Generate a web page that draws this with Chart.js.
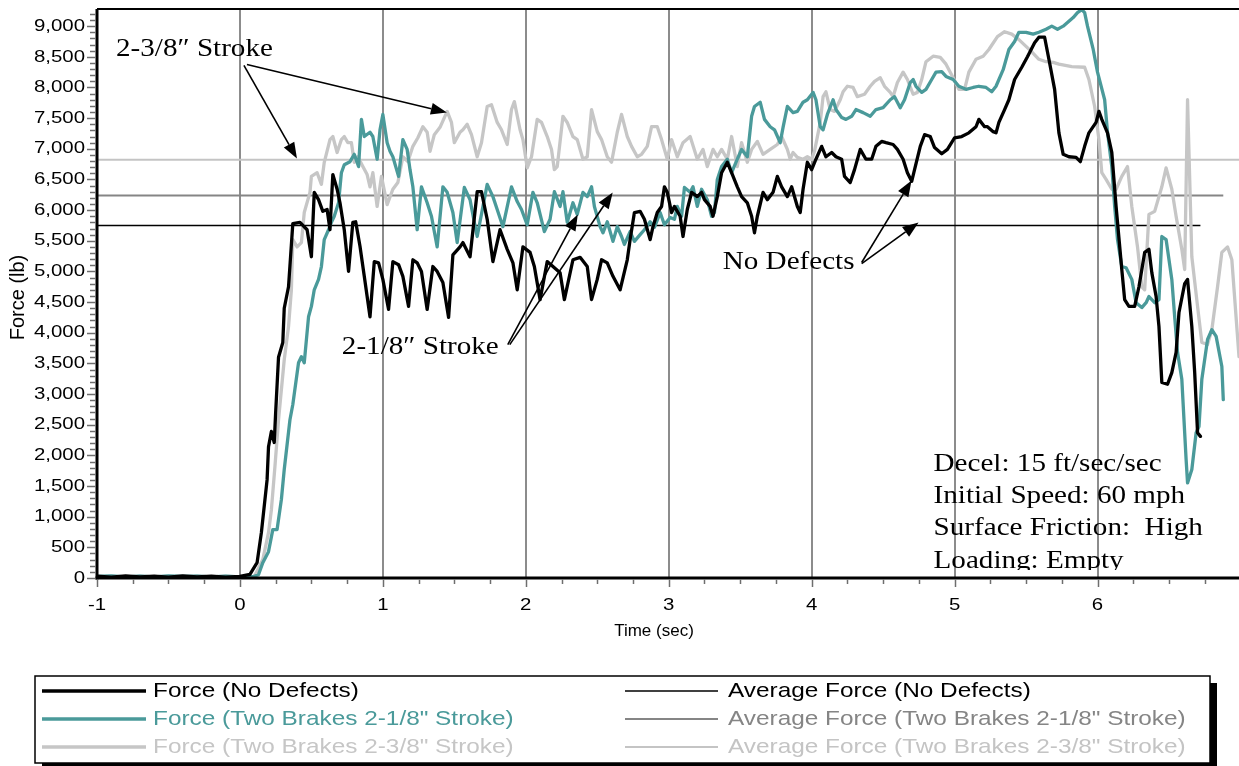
<!DOCTYPE html>
<html>
<head>
<meta charset="utf-8">
<title>Brake Force vs Time</title>
<script src="https://cdn.jsdelivr.net/npm/chart.js@4.4.1/dist/chart.umd.min.js"></script>
<style>
  html, body { margin: 0; padding: 0; background: #ffffff; }
  #wrap { width: 1239px; height: 766px; position: relative; }
  canvas { display: block; }
</style>
</head>
<body>
<div id="wrap"><canvas id="chart" width="1239" height="766"></canvas></div>
<script>
// ---- Measured brake force traces (time in s, force in lb) ----
const timeNoDefects = [-1.00,-0.90,-0.80,-0.70,-0.60,-0.50,-0.40,-0.30,-0.20,-0.10,0.00,0.07,
  0.12,0.15,0.19,0.20,0.22,0.24,0.25,0.27,0.30,0.31,0.34,0.37,0.42,0.47,0.50,0.52,0.55,0.58,0.61,0.63,0.65,0.68,0.70,0.73,0.76,0.79,0.81,0.84,0.87,0.91,0.94,0.97,
  1.00,1.04,1.07,1.11,1.14,1.18,1.21,1.24,1.27,1.31,1.35,1.38,1.42,1.46,1.49,1.54,1.56,1.61,1.66,1.69,1.73,1.77,1.82,1.87,1.91,1.94,1.98,
  2.03,2.06,2.10,2.15,2.19,2.24,2.27,2.33,2.38,2.43,2.46,2.50,2.53,2.57,2.61,2.66,2.71,2.73,2.76,2.80,2.83,2.87,2.89,2.92,2.95,2.97,2.99,
  3.02,3.04,3.08,3.10,3.13,3.16,3.20,3.23,3.25,3.29,3.31,3.34,3.37,3.41,3.44,3.48,3.51,3.55,3.58,3.60,3.62,3.66,3.69,3.73,3.76,3.79,3.83,3.86,3.90,3.92,3.94,3.97,
  4.00,4.03,4.07,4.10,4.14,4.17,4.21,4.23,4.27,4.30,4.34,4.38,4.42,4.45,4.49,4.52,4.57,4.60,4.64,4.67,4.70,4.72,4.76,4.79,4.83,4.86,4.91,4.95,
  5.00,5.05,5.10,5.15,5.17,5.21,5.23,5.27,5.29,5.31,5.35,5.38,5.42,5.47,5.51,5.56,5.59,5.63,5.66,5.70,5.73,5.76,5.80,5.85,5.88,5.91,5.94,5.99,
  6.01,6.03,6.07,6.10,6.13,6.17,6.19,6.22,6.26,6.29,6.33,6.36,6.38,6.41,6.43,6.45,6.49,6.52,6.55,6.57,6.61,6.63,6.66,6.68,6.70,6.72];
const forceNoDefects = [30,15,35,20,30,15,35,20,30,15,25,60,
  250,740,1600,2140,2390,2210,2700,3600,3840,4400,4750,5780,5800,5680,5240,6290,6170,5980,6010,5680,6580,6340,6120,5680,5000,5800,5810,5410,4920,4260,5160,5140,
  4870,4380,5160,5110,4920,4430,5190,5140,5000,4380,5080,5000,4820,4250,5270,5400,5470,5240,6300,6300,5850,5160,5680,5360,5140,4700,5400,
  5310,5080,4540,5160,5080,4980,4540,5190,5230,5080,4540,4870,5190,5140,4920,4700,5190,5520,5960,5980,5850,5520,5730,5960,6060,6380,6290,
  5960,6060,5900,5570,6010,6290,6220,6290,6170,6060,5900,6220,6610,6780,6610,6380,6220,6120,5900,5630,5900,6290,6170,6290,6550,6380,6220,6380,6060,5960,6340,6780,
  6660,6830,7040,6870,6940,6870,6830,6550,6450,6660,6990,6830,6830,7040,7120,7100,7070,6990,6830,6610,6470,6660,7040,7230,7200,7020,6920,6990,
  7180,7200,7260,7360,7480,7360,7360,7280,7260,7430,7640,7800,8130,8330,8500,8730,8820,8820,8460,7970,7260,6910,6870,6860,6790,7040,7260,7430,
  7610,7480,7260,6940,6060,5030,4540,4430,4430,4750,5310,5360,4980,4590,4100,3190,3160,3350,3680,4330,4800,4870,4100,3350,2370,2310];

const timeStroke218 = [-1.00,-0.90,-0.80,-0.70,-0.60,-0.50,-0.40,-0.30,-0.20,-0.10,0.00,0.09,
  0.13,0.16,0.20,0.23,0.26,0.29,0.31,0.35,0.37,0.41,0.43,0.45,0.48,0.50,0.52,0.55,0.57,0.59,0.62,0.64,0.66,0.69,0.71,0.73,0.77,0.80,0.83,0.85,0.87,0.91,0.93,0.96,0.98,
  1.00,1.03,1.05,1.07,1.11,1.14,1.17,1.19,1.21,1.24,1.27,1.31,1.34,1.38,1.42,1.45,1.49,1.52,1.57,1.61,1.64,1.66,1.73,1.77,1.80,1.84,1.90,1.94,1.97,
  2.01,2.05,2.08,2.13,2.17,2.20,2.24,2.26,2.29,2.33,2.36,2.40,2.43,2.46,2.48,2.52,2.54,2.57,2.61,2.64,2.67,2.69,2.73,2.76,2.80,2.83,2.87,2.90,2.94,2.97,
  3.01,3.04,3.06,3.09,3.11,3.15,3.17,3.20,3.23,3.27,3.30,3.32,3.34,3.37,3.41,3.44,3.48,3.51,3.55,3.58,3.60,3.64,3.67,3.71,3.74,3.78,3.80,3.83,3.87,3.90,3.94,3.97,
  4.01,4.03,4.06,4.08,4.11,4.15,4.17,4.21,4.24,4.28,4.31,4.36,4.41,4.45,4.50,4.55,4.58,4.62,4.65,4.69,4.71,4.73,4.77,4.80,4.84,4.87,4.91,4.94,4.99,
  5.03,5.08,5.13,5.17,5.22,5.26,5.29,5.34,5.38,5.42,5.45,5.50,5.55,5.59,5.64,5.68,5.72,5.76,5.79,5.83,5.86,5.89,5.91,5.93,5.97,
  6.00,6.05,6.07,6.10,6.12,6.14,6.17,6.20,6.24,6.27,6.31,6.34,6.36,6.40,6.43,6.45,6.48,6.52,6.54,6.56,6.59,6.62,6.63,6.66,6.69,6.71,6.73,6.77,6.80,6.83,6.87,6.88];
const forceStroke218 = [25,35,20,30,20,35,25,30,20,30,20,21,
  54,250,430,790,790,1280,1770,2580,2830,3510,3610,3510,4260,4430,4700,4870,5080,5520,5680,5800,5900,6120,6610,6740,6790,6910,6710,7480,7200,7270,7200,6830,7310,
  7560,7100,6960,6870,6550,7150,6990,6660,6380,5680,6380,6120,5900,5400,6380,6290,5960,5470,6370,6170,5800,5570,6420,6220,6010,5730,6380,6140,6010,
  5760,6290,6120,5650,5850,6300,6060,6300,5800,6120,5930,6290,6220,6380,6060,5730,5630,5810,5490,5730,5570,5440,5650,5490,5600,5680,5810,5720,5960,5760,
  5880,5850,6060,5900,6370,6290,6380,6060,6340,6170,5900,5960,6500,6710,6830,6610,6830,6990,6870,7530,7690,7760,7480,7360,7310,7100,7350,7690,7590,7610,7760,7800,
  7920,7800,7360,7310,7560,7800,7640,7510,7480,7530,7640,7590,7530,7640,7670,7800,7850,7670,7800,8080,8130,8020,7920,7970,8130,8250,8260,8180,8130,
  8020,7970,8000,8020,8000,7930,8020,8290,8620,8750,8900,8900,8870,8900,8950,9000,8950,9000,9060,9140,9220,9270,9220,9000,8620,
  8250,7800,7270,6710,6060,5520,5080,5060,4870,4490,4410,4490,4590,4490,4540,5570,5520,4870,4260,3680,3240,1930,1550,1770,2370,2470,3240,3890,4050,3940,3450,2910];

const timeStroke238 = [-1.00,-0.90,-0.80,-0.70,-0.60,-0.50,-0.40,-0.30,-0.20,-0.10,0.00,0.10,
  0.16,0.20,0.22,0.245,0.27,0.29,0.31,0.34,0.36,0.37,0.40,0.43,0.45,0.49,0.50,0.54,0.57,0.59,0.63,0.65,0.68,0.71,0.73,0.755,0.78,0.80,0.825,0.86,0.89,0.91,0.93,0.96,0.99,
  1.03,1.07,1.105,1.14,1.175,1.21,1.245,1.28,1.31,1.33,1.36,1.40,1.45,1.48,1.50,1.54,1.56,1.59,1.62,1.66,1.69,1.73,1.76,1.80,1.83,1.87,1.90,1.92,1.96,1.98,
  2.01,2.04,2.08,2.11,2.15,2.18,2.20,2.22,2.26,2.29,2.33,2.36,2.40,2.43,2.46,2.50,2.53,2.57,2.60,2.64,2.67,2.71,2.74,2.78,2.81,2.85,2.88,2.92,2.95,2.99,
  3.02,3.06,3.10,3.15,3.20,3.24,3.27,3.31,3.34,3.37,3.41,3.44,3.48,3.51,3.55,3.58,3.62,3.66,3.71,3.76,3.79,3.83,3.85,3.87,3.90,3.94,3.97,
  4.00,4.02,4.06,4.08,4.10,4.13,4.16,4.20,4.22,4.25,4.29,4.32,4.37,4.41,4.44,4.48,4.51,4.55,4.57,4.60,4.64,4.67,4.71,4.74,4.77,4.80,4.85,4.90,4.94,4.99,
  5.03,5.07,5.10,5.15,5.20,5.24,5.30,5.35,5.40,5.45,5.50,5.545,5.59,5.64,5.69,5.73,5.82,5.91,5.94,5.98,
  6.01,6.03,6.06,6.10,6.13,6.17,6.21,6.24,6.28,6.31,6.33,6.36,6.40,6.45,6.48,6.52,6.55,6.59,6.61,6.63,6.66,6.70,6.73,6.77,6.80,6.84,6.87,6.91,6.94,6.99];
const forceStroke238 = [20,30,15,35,20,30,20,35,20,30,20,21,
  300,740,1110,1820,2580,3070,3560,4100,4700,5520,5400,5470,5960,6290,6550,6610,6420,6780,7150,7200,6940,7150,7200,7100,7100,6780,6870,6710,6580,6380,6610,6060,6550,
  6090,6340,6450,6870,6790,7040,7180,7360,7270,6960,7230,7350,7610,7430,7100,7270,7310,7400,7230,6870,7100,7690,7720,7430,7310,7070,7640,7770,7310,7150,
  6690,6870,7480,7430,7200,6990,6660,6710,7530,7430,7200,7150,6830,6870,7640,7280,7150,6870,6780,7270,7560,7200,7040,6870,6910,7040,7360,7360,7150,6830,
  7150,6870,7100,7200,6830,6990,6710,6990,6870,6990,6830,7200,6710,7100,6780,6990,7120,6910,6990,7070,7200,6990,6830,6940,6860,6830,6870,
  6830,6960,7430,7850,7930,7640,7610,7800,7930,8020,8000,7850,7890,8020,8100,8160,8020,7920,7850,8080,8250,8130,7890,7920,8130,8420,8510,8490,8380,8160,
  7970,7970,8250,8460,8510,8620,8830,8910,8870,8780,8670,8570,8460,8420,8410,8380,8340,8330,8130,7690,
  7150,6610,6500,6340,6340,6550,6710,6060,5400,4750,4700,5930,5980,6380,6690,6340,5900,5360,5030,7800,5240,4430,3840,3810,4050,4750,5310,5400,5190,3610];

// Mean force of each run over its full record (lb)
const averageForce = [5750, 6240, 6820];

// Axis ticks
const xTickValues = [-1, 0, 1, 2, 3, 4, 5, 6];
const yTickValues = [0, 500, 1000, 1500, 2000, 2500, 3000, 3500, 4000, 4500, 5000, 5500, 6000, 6500, 7000, 7500, 8000, 8500, 9000];

const seriesLabels = [
  'Force (No Defects)',
  'Force (Two Brakes 2-1/8" Stroke)',
  'Force (Two Brakes 2-3/8" Stroke)',
  'Average Force (No Defects)',
  'Average Force (Two Brakes 2-1/8" Stroke)',
  'Average Force (Two Brakes 2-3/8" Stroke)'
];

const testConditions = ['Decel: 15 ft/sec/sec', 'Initial Speed: 60 mph', 'Surface Friction:  High', 'Loading: Empty'];

// ---- Styling ----
const BLACK = '#000000';
const TEAL = '#4a9a9a';
const LIGHT = '#c6c6c6';
const MID = '#858585';
const SANS = '"Liberation Sans", Arial, sans-serif';
const SERIF = '"Liberation Serif", "Times New Roman", serif';

function toPoints(ts, fs) { return ts.map((t, i) => ({ x: t, y: fs[i] })); }
function spanLine(ts, level) { return [{ x: ts[0], y: level }, { x: ts[ts.length - 1], y: level }]; }

const traces = [
  { t: timeNoDefects, f: forceNoDefects, color: BLACK, avgColor: BLACK, avgWidth: 1.6 },
  { t: timeStroke218, f: forceStroke218, color: TEAL, avgColor: MID, avgWidth: 2 },
  { t: timeStroke238, f: forceStroke238, color: LIGHT, avgColor: '#c4c4c4', avgWidth: 2 }
];

const datasets = [];
traces.forEach((tr, i) => {
  datasets.push({
    label: seriesLabels[i], data: toPoints(tr.t, tr.f),
    borderColor: tr.color, borderWidth: 3.3, order: i, tension: 0,
    borderJoinStyle: 'round', borderCapStyle: 'round', pointRadius: 0, fill: false
  });
});
traces.forEach((tr, i) => {
  datasets.push({
    label: seriesLabels[3 + i], data: spanLine(tr.t, averageForce[i]),
    borderColor: tr.avgColor, borderWidth: tr.avgWidth, order: 10 + i,
    pointRadius: 0, fill: false
  });
});

// Call-out notes, anchored in data units (time, force)
const callouts = [
  { text: '2-3/8\u2033 Stroke', at: [-0.867, 8506],
    arrows: [[0.028, 8359, 0.399, 6841], [0.049, 8375, 1.448, 7592]] },
  { text: '2-1/8\u2033 Stroke', at: [0.713, 3660],
    arrows: [[1.874, 3807, 2.364, 5928], [1.888, 3807, 2.608, 6287]] },
  { text: 'No Defects', at: [3.378, 5047],
    arrows: [[4.35, 5145, 4.699, 6483], [4.35, 5128, 4.748, 5797]] }
];
const conditionsAnchor = [4.853, 1750];

function stretchedText(ctx, text, x, y, sx, align) {
  ctx.save();
  ctx.translate(x, y);
  ctx.scale(sx, 1);
  ctx.textAlign = align || 'left';
  ctx.fillText(text, 0, 0);
  ctx.restore();
}

function arrow(ctx, x1, y1, x2, y2) {
  const ang = Math.atan2(y2 - y1, x2 - x1);
  const len = 16, half = 6;
  const bx = x2 - len * Math.cos(ang), by = y2 - len * Math.sin(ang);
  ctx.beginPath();
  ctx.moveTo(x1, y1);
  ctx.lineTo(bx, by);
  ctx.stroke();
  ctx.beginPath();
  ctx.moveTo(x2, y2);
  ctx.lineTo(bx + half * Math.sin(ang), by - half * Math.cos(ang));
  ctx.lineTo(bx - half * Math.sin(ang), by + half * Math.cos(ang));
  ctx.closePath();
  ctx.fill();
}

const decorations = {
  id: 'decorations',
  afterDatasetsDraw(chart) {
    const { ctx, chartArea: a, scales: { x, y } } = chart;
    ctx.save();

    // frame: top rule and heavy axes
    ctx.strokeStyle = BLACK;
    ctx.lineWidth = 2;
    ctx.beginPath(); ctx.moveTo(a.left, a.top); ctx.lineTo(a.right, a.top); ctx.stroke();
    ctx.lineWidth = 3;
    ctx.beginPath(); ctx.moveTo(a.left, a.top); ctx.lineTo(a.left, a.bottom + 1.5); ctx.stroke();
    ctx.beginPath(); ctx.moveTo(a.left - 1.5, a.bottom); ctx.lineTo(a.right, a.bottom); ctx.stroke();

    // tick marks (minor every 100 lb / 0.25 s)
    ctx.strokeStyle = '#6e6e6e';
    ctx.lineWidth = 1.5;
    for (let k = 0; k * 100 <= y.max - 50; k++) {
      const py = Math.round(y.getPixelForValue(k * 100)) + 0.5;
      const len = k % 5 === 0 ? 10 : 7;
      ctx.beginPath(); ctx.moveTo(a.left - len, py); ctx.lineTo(a.left - 1.5, py); ctx.stroke();
    }
    for (let k = 0; -1 + k * 0.25 < x.max; k++) {
      const px = Math.round(x.getPixelForValue(-1 + k * 0.25)) + 0.5;
      const len = k % 4 === 0 ? 9 : 6;
      ctx.beginPath(); ctx.moveTo(px, a.bottom + 1.5); ctx.lineTo(px, a.bottom + len); ctx.stroke();
    }

    // tick labels
    ctx.fillStyle = BLACK;
    ctx.font = '17px ' + SANS;
    ctx.textBaseline = 'middle';
    yTickValues.forEach(v => {
      stretchedText(ctx, v.toLocaleString('en-US'), a.left - 12, y.getPixelForValue(v), 1.2, 'right');
    });
    xTickValues.forEach(v => {
      stretchedText(ctx, String(v), x.getPixelForValue(v), a.bottom + 27, 1.2, 'center');
    });

    // axis titles
    ctx.font = '17px ' + SANS;
    stretchedText(ctx, 'Time (sec)', (a.left + a.right) / 2 - 14, a.bottom + 53, 1.0, 'center');
    ctx.save();
    ctx.translate(18, (a.top + a.bottom) / 2 + 4);
    ctx.rotate(-Math.PI / 2);
    ctx.font = '20px ' + SANS;
    ctx.textAlign = 'center';
    ctx.fillText('Force (lb)', 0, 0);
    ctx.restore();

    // call-outs with leader arrows
    ctx.font = '26px ' + SERIF;
    ctx.textBaseline = 'alphabetic';
    ctx.strokeStyle = BLACK;
    ctx.fillStyle = BLACK;
    ctx.lineWidth = 1.6;
    callouts.forEach(c => {
      stretchedText(ctx, c.text, x.getPixelForValue(c.at[0]), y.getPixelForValue(c.at[1]), 1.12, 'left');
      c.arrows.forEach(r => arrow(ctx,
        x.getPixelForValue(r[0]), y.getPixelForValue(r[1]),
        x.getPixelForValue(r[2]), y.getPixelForValue(r[3])));
    });

    // test conditions block, clipped just above the time axis
    ctx.save();
    ctx.beginPath();
    ctx.rect(a.left, a.top, a.right - a.left, a.bottom - a.top - 8);
    ctx.clip();
    const cx = x.getPixelForValue(conditionsAnchor[0]);
    const cy = y.getPixelForValue(conditionsAnchor[1]);
    testConditions.forEach((line, i) => {
      stretchedText(ctx, line, cx, cy + i * 32.4, 1.12, 'left');
    });
    ctx.restore();

    ctx.restore();
  },
  afterDraw(chart) {
    // two-column legend box with drop shadow
    const { ctx } = chart;
    const box = { l: 35, t: 676, r: 1210, b: 763 };
    ctx.save();
    ctx.fillStyle = BLACK;
    ctx.fillRect(box.l + 7, box.t + 7, box.r - box.l, box.b - box.t);
    ctx.fillStyle = '#ffffff';
    ctx.fillRect(box.l, box.t, box.r - box.l, box.b - box.t);
    ctx.strokeStyle = BLACK;
    ctx.lineWidth = 1.5;
    ctx.strokeRect(box.l, box.t, box.r - box.l, box.b - box.t);

    const cols = [{ x0: 42, x1: 146, tx: 153 }, { x0: 625, x1: 718, tx: 728 }];
    ctx.font = '21px ' + SANS;
    ctx.textBaseline = 'middle';
    chart.data.datasets.forEach((ds, i) => {
      const col = cols[Math.floor(i / 3)];
      const yy = box.t + 15 + (i % 3) * 28;
      ctx.strokeStyle = ds.borderColor;
      ctx.lineWidth = ds.borderWidth;
      ctx.beginPath(); ctx.moveTo(col.x0, yy); ctx.lineTo(col.x1, yy); ctx.stroke();
      ctx.fillStyle = ds.borderColor;
      stretchedText(ctx, ds.label, col.tx, yy, 1.16, 'left');
    });
    ctx.restore();
  }
};

new Chart(document.getElementById('chart'), {
  type: 'line',
  data: { datasets },
  options: {
    responsive: false,
    animation: false,
    devicePixelRatio: 1,
    layout: { padding: { top: 9, right: 0, bottom: 178, left: 0 } },
    plugins: { legend: { display: false }, tooltip: { enabled: false } },
    elements: { point: { radius: 0 } },
    scales: {
      x: {
        type: 'linear', min: -1, max: 6.99,
        afterBuildTicks: s => { s.ticks = xTickValues.map(v => ({ value: v })); },
        afterFit: s => { s.height = 10; },
        ticks: { display: false },
        grid: { color: '#8c8c8c', lineWidth: 2, drawTicks: false },
        border: { display: false }
      },
      y: {
        type: 'linear', min: 0, max: 9280,
        afterBuildTicks: s => { s.ticks = yTickValues.map(v => ({ value: v })); },
        afterFit: s => { s.width = 97; },
        ticks: { display: false },
        grid: { display: false, drawTicks: false },
        border: { display: false }
      }
    }
  },
  plugins: [decorations]
});
</script>
</body>
</html>
